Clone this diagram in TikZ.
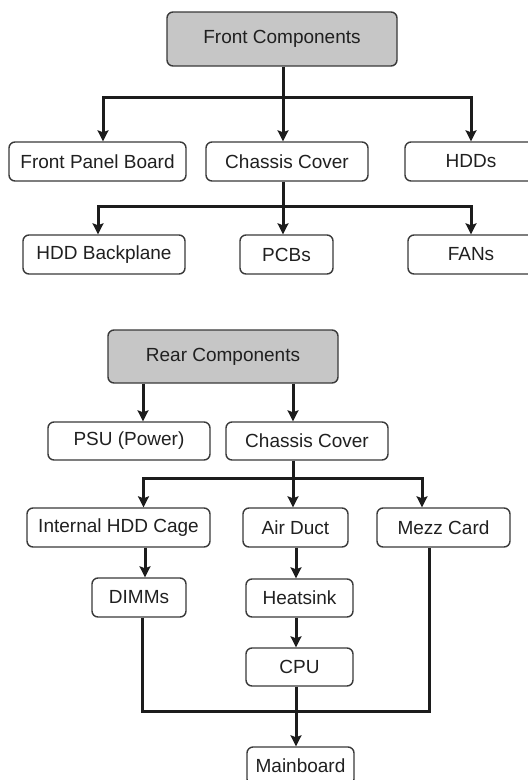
\documentclass[tikz,border=0pt]{standalone}
\usepackage{fontspec}
\setmainfont{Liberation Sans}
\usetikzlibrary{arrows.meta}
\definecolor{hdrgray}{HTML}{C6C6C6}
\definecolor{ink}{HTML}{1C1C1C}
\definecolor{boxline}{HTML}{3A3A3A}
\definecolor{txt}{HTML}{202020}
\tikzset{
  box/.style={draw=boxline, line width=1.4pt, rounded corners=6pt, fill=white,
    inner sep=0pt, minimum height=39pt, text=txt, font=\fontsize{19pt}{21pt}\selectfont},
  hdr/.style={box, fill=hdrgray, minimum height=54pt},
  conn/.style={draw=ink, line width=3pt},
  arr/.style={conn, -{Stealth[length=11pt, width=11pt, inset=2pt]}}
}
\begin{document}
\begin{tikzpicture}[x=1pt,y=-1pt]
\useasboundingbox (0,0) rectangle (528,780);
\clip (0,0) rectangle (528,780);
\fill[white] (0,0) rectangle (528,780);

% ---------- Front ----------
\node[hdr, minimum width=230pt] (fc) at (282,39) {Front Components};
\node[box, minimum width=177pt] (fpb) at (97.5,161.5) {Front Panel Board};
\node[box, minimum width=162pt] (cc1) at (287,161.5) {Chassis Cover};
\node[box, minimum width=132pt] (hdd) at (471,161.5) {HDDs};
\node[box, minimum width=162pt] (hbp) at (104,254.5) {HDD Backplane};
\node[box, minimum width=93pt] (pcb) at (286.5,254.5) {PCBs};
\node[box, minimum width=126pt] (fan) at (471,254.5) {FANs};

\coordinate (j1) at (283,97);
\coordinate (j2) at (283,206);
\draw[conn] (j1 |- fc.south) -- (j1);
\draw[arr] (j1) -| ([xshift=5.5pt]fpb.north);
\draw[arr] (j1) -- (j1 |- cc1.north);
\draw[arr] (j1) -| (hdd.north);
\draw[conn] (j2 |- cc1.south) -- (j2);
\draw[arr] (j2) -| ([xshift=-6pt]hbp.north);
\draw[arr] (j2) -- (j2 |- pcb.north);
\draw[arr] (j2) -| (fan.north);

% ---------- Rear ----------
\node[hdr, minimum width=230pt, minimum height=53pt] (rc) at (223,356.5) {Rear Components};
\node[box, minimum width=162pt, minimum height=38pt] (psu) at (129,441) {PSU (Power)};
\node[box, minimum width=162pt, minimum height=38pt] (cc2) at (307,441) {Chassis Cover};
\node[box, minimum width=183pt] (ihc) at (118.5,527.5) {Internal HDD Cage};
\node[box, minimum width=105pt] (ad) at (295.5,527.5) {Air Duct};
\node[box, minimum width=133pt] (mc) at (443.5,527.5) {Mezz Card};
\node[box, minimum width=94pt] (dim) at (139,597.5) {DIMMs};
\node[box, minimum width=107pt, minimum height=38pt] (hs) at (299.5,598) {Heatsink};
\node[box, minimum width=107pt, minimum height=38pt] (cpu) at (299.5,667) {CPU};
\node[box, minimum width=107pt, minimum height=38pt] (mb) at (300.5,766) {Mainboard};

\coordinate (k1) at (143,383);
\coordinate (k2) at (293,383);
\draw[arr] (k1 |- rc.south) -- (k1 |- psu.north);
\draw[arr] (k2 |- rc.south) -- (k2 |- cc2.north);

\coordinate (j3) at (293,478);
\draw[conn] (j3 |- cc2.south) -- (j3);
\draw[arr] (j3) -| ([xshift=25pt]ihc.north);
\draw[arr] (j3) -- (j3 |- ad.north);
\draw[arr] (j3) -| ([xshift=-21.5pt]mc.north);

\coordinate (c1) at (145,547);
\draw[arr] (c1 |- ihc.south) -- (c1 |- dim.north);
\coordinate (c2) at (296,547);
\draw[arr] (c2 |- ad.south) -- (c2 |- hs.north);
\draw[arr] (c2 |- hs.south) -- (c2 |- cpu.north);

\coordinate (j4) at (296,711);
\draw[conn] (142,0 |- dim.south) -- (142,711) -- (429,711) -- (429,0 |- mc.south);
\draw[arr] (j4 |- cpu.south) -- (j4 |- mb.north);
\end{tikzpicture}
\end{document}
